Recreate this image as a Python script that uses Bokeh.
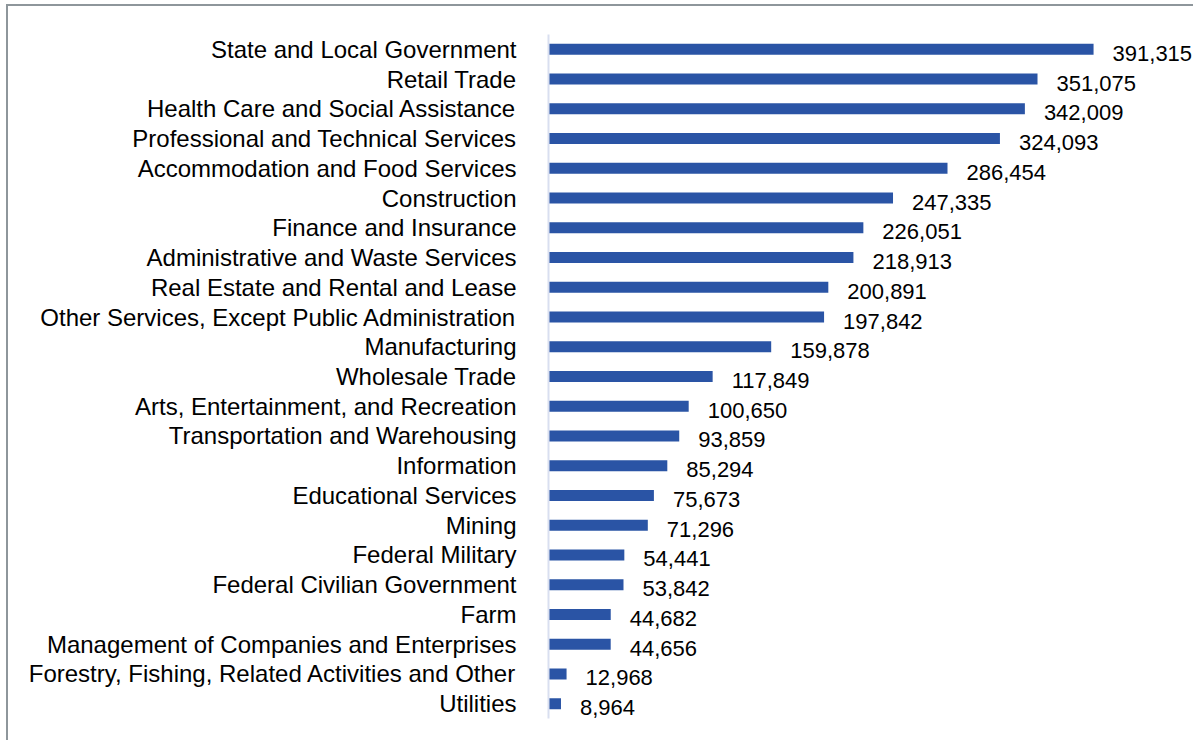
from bokeh.plotting import figure
from bokeh.models import ColumnDataSource, FactorRange, Range1d
from bokeh.core.properties import value
from bokeh.embed import file_html
from bokeh.resources import INLINE

categories = [
    "State and Local Government",
    "Retail Trade",
    "Health Care and Social Assistance",
    "Professional and Technical Services",
    "Accommodation and Food Services",
    "Construction",
    "Finance and Insurance",
    "Administrative and Waste Services",
    "Real Estate and Rental and Lease",
    "Other Services, Except Public Administration",
    "Manufacturing",
    "Wholesale Trade",
    "Arts, Entertainment, and Recreation",
    "Transportation and Warehousing",
    "Information",
    "Educational Services",
    "Mining",
    "Federal Military",
    "Federal Civilian Government",
    "Farm",
    "Management of Companies and Enterprises",
    "Forestry, Fishing, Related Activities and Other",
    "Utilities",
]
values = [391315, 351075, 342009, 324093, 286454, 247335, 226051, 218913,
          200891, 197842, 159878, 117849, 100650, 93859, 85294, 75673,
          71296, 54441, 53842, 44682, 44656, 12968, 8964]
value_labels = [f"{v:,}" for v in values]

FONT = "Liberation Sans"
BAR_COLOR = "#2A54A5"

src = ColumnDataSource(dict(cat=categories, val=values, lab=value_labels))

p = figure(
    width=1187, height=736,
    y_range=FactorRange(factors=list(reversed(categories))),
    x_range=Range1d(0, 464500),
    output_backend="svg", toolbar_location=None,
    min_border_left=540, min_border_right=0,
    min_border_top=28, min_border_bottom=24,
)
p.styles = {"border-left": "2px solid #8E969B", "border-top": "2px solid #8E969B",
            "margin-left": "6px", "margin-top": "4px"}

p.hbar(y="cat", right="val", left=0, height=0.37, source=src,
       fill_color=BAR_COLOR, line_color=None)

p.text(x="val", y="cat", text="lab", source=src,
       x_offset=19, y_offset=4,
       text_font=value(FONT), text_font_size="22px",
       text_align="left", text_baseline="middle", text_color="#000000")

p.xaxis.visible = False
p.xgrid.visible = False
p.ygrid.visible = False
p.outline_line_color = None

ax = p.yaxis[0]
ax.axis_line_color = "#D9DFF0"
ax.axis_line_width = 2
ax.major_tick_line_color = None
ax.minor_tick_line_color = None
ax.major_tick_out = 0
ax.major_tick_in = 0
ax.major_label_standoff = 32
ax.major_label_text_font = FONT
ax.major_label_text_font_size = "24px"
ax.major_label_text_color = "#000000"

p.background_fill_color = "white"
p.border_fill_color = "white"

open("out.html", "w").write(file_html(p, INLINE))
